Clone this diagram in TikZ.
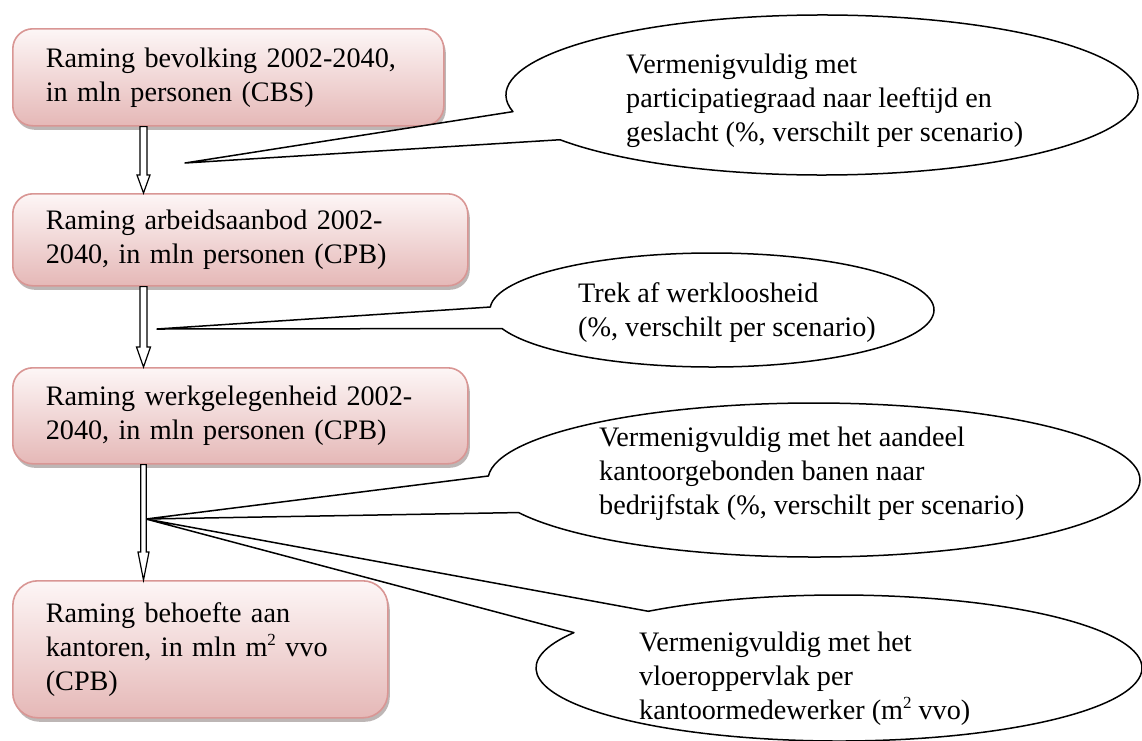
\documentclass[tikz,border=0pt]{standalone}
\usepackage{fontspec}
\setmainfont{Liberation Serif}
\usetikzlibrary{calc,shadows}
\definecolor{boxborder}{RGB}{217,150,148}
\definecolor{boxtop}{RGB}{253,246,246}
\definecolor{boxbot}{RGB}{229,184,183}
\tikzset{
  box/.style={draw=boxborder, line width=1.6pt, rounded corners=20pt,
    top color=boxtop, bottom color=boxbot,
    drop shadow={shadow xshift=2pt, shadow yshift=-4pt, fill=black!70!boxborder, opacity=0.35},
    inner xsep=33pt, inner ysep=0pt, align=left, anchor=north west,
    font=\fontsize{28.2}{34}\selectfont},
  calltext/.style={inner sep=0pt, anchor=west, align=left,
    font=\fontsize{28.2}{34}\selectfont},
  callout/.style={draw=black, line width=1.5pt, fill=white, line join=round},
  blockarrow/.style={draw=black, line width=1.2pt, fill=white, line join=miter},
}
\newcommand\blockarr[5]{%
  \path (#1.south -| ax) coordinate (as) (#2.north -| ax) coordinate (ae);
  \draw[blockarrow] ($(as)+(-#3,0)$) -- ($(ae)+(-#3,#5)$) -- ($(ae)+(-#4,#5)$)
    -- (ae) -- ($(ae)+(#4,#5)$) -- ($(ae)+(#3,#5)$) -- ($(as)+(#3,0)$) -- cycle;}
\newcommand\sqsup{\raisebox{0.85ex}{\fontsize{17}{17}\selectfont 2}}
\begin{document}
\begin{tikzpicture}[x=1pt, y=1pt]
\useasboundingbox (0,0) rectangle (1142,-740);
\coordinate (ax) at (143.5,0);

% boxes
\node[box, text width=365pt, minimum height=97pt] (b1) at (12,-28)
  {Raming bevolking 2002-2040,\\in mln personen (CBS)};
\node[box, text width=389pt, minimum height=92pt] (b2) at (12,-193)
  {Raming arbeidsaanbod 2002-\\2040, in mln personen (CPB)};
\node[box, text width=389pt, minimum height=96pt] (b3) at (12,-367)
  {Raming werkgelegenheid 2002-\\2040, in mln personen (CPB)};
\node[box, text width=309pt, minimum height=137pt, rounded corners=25pt] (b4) at (12,-580)
  {Raming behoefte aan\\kantoren, in mln m\sqsup{} vvo\\(CPB)};

% callout geometry
\coordinate (c1) at (822,-95);
\coordinate (c2) at (712,-310);
\coordinate (c3) at (814,-480);
\coordinate (c4) at (839,-668);
\coordinate (t1) at (185,-163);
\coordinate (t2) at (157,-329);
\coordinate (t3) at (146,-519);

\draw[callout] (t1) -- ($(c1)+(192:316 and 80)$)
  arc[start angle=192, end angle=-146, x radius=316, y radius=80] -- cycle;
\draw[callout] (t2) -- ($(c2)+(177:222 and 57)$)
  arc[start angle=177, end angle=-161, x radius=222, y radius=57] -- cycle;
\draw[callout] (t3) -- ($(c3)+(177:326 and 77)$)
  arc[start angle=177, end angle=-155, x radius=326, y radius=77] -- cycle;
\draw[callout] (t3) -- ($(c4)+(129:303 and 73)$)
  arc[start angle=129, end angle=-209, x radius=303, y radius=73] -- cycle;

\node[calltext] (k1) at (626,-101)
  {Vermenigvuldig met\\participatiegraad naar leeftijd en\\geslacht (\%, verschilt per scenario)};
\node[calltext] (k2) at (578,-313)
  {Trek af werkloosheid\\(\%, verschilt per scenario)};
\node[calltext] (k3) at (599,-474)
  {Vermenigvuldig met het aandeel\\kantoorgebonden banen naar\\bedrijfstak (\%, verschilt per scenario)};
\node[calltext] (k4) at (639,-679)
  {Vermenigvuldig met het\\vloeroppervlak per\\kantoormedewerker (m\sqsup{} vvo)};

% block arrows
\blockarr{b1}{b2}{3.5}{6.5}{18}
\blockarr{b2}{b3}{3.5}{7}{20}
\blockarr{b3}{b4}{2.7}{5.5}{28}
\end{tikzpicture}
\end{document}
